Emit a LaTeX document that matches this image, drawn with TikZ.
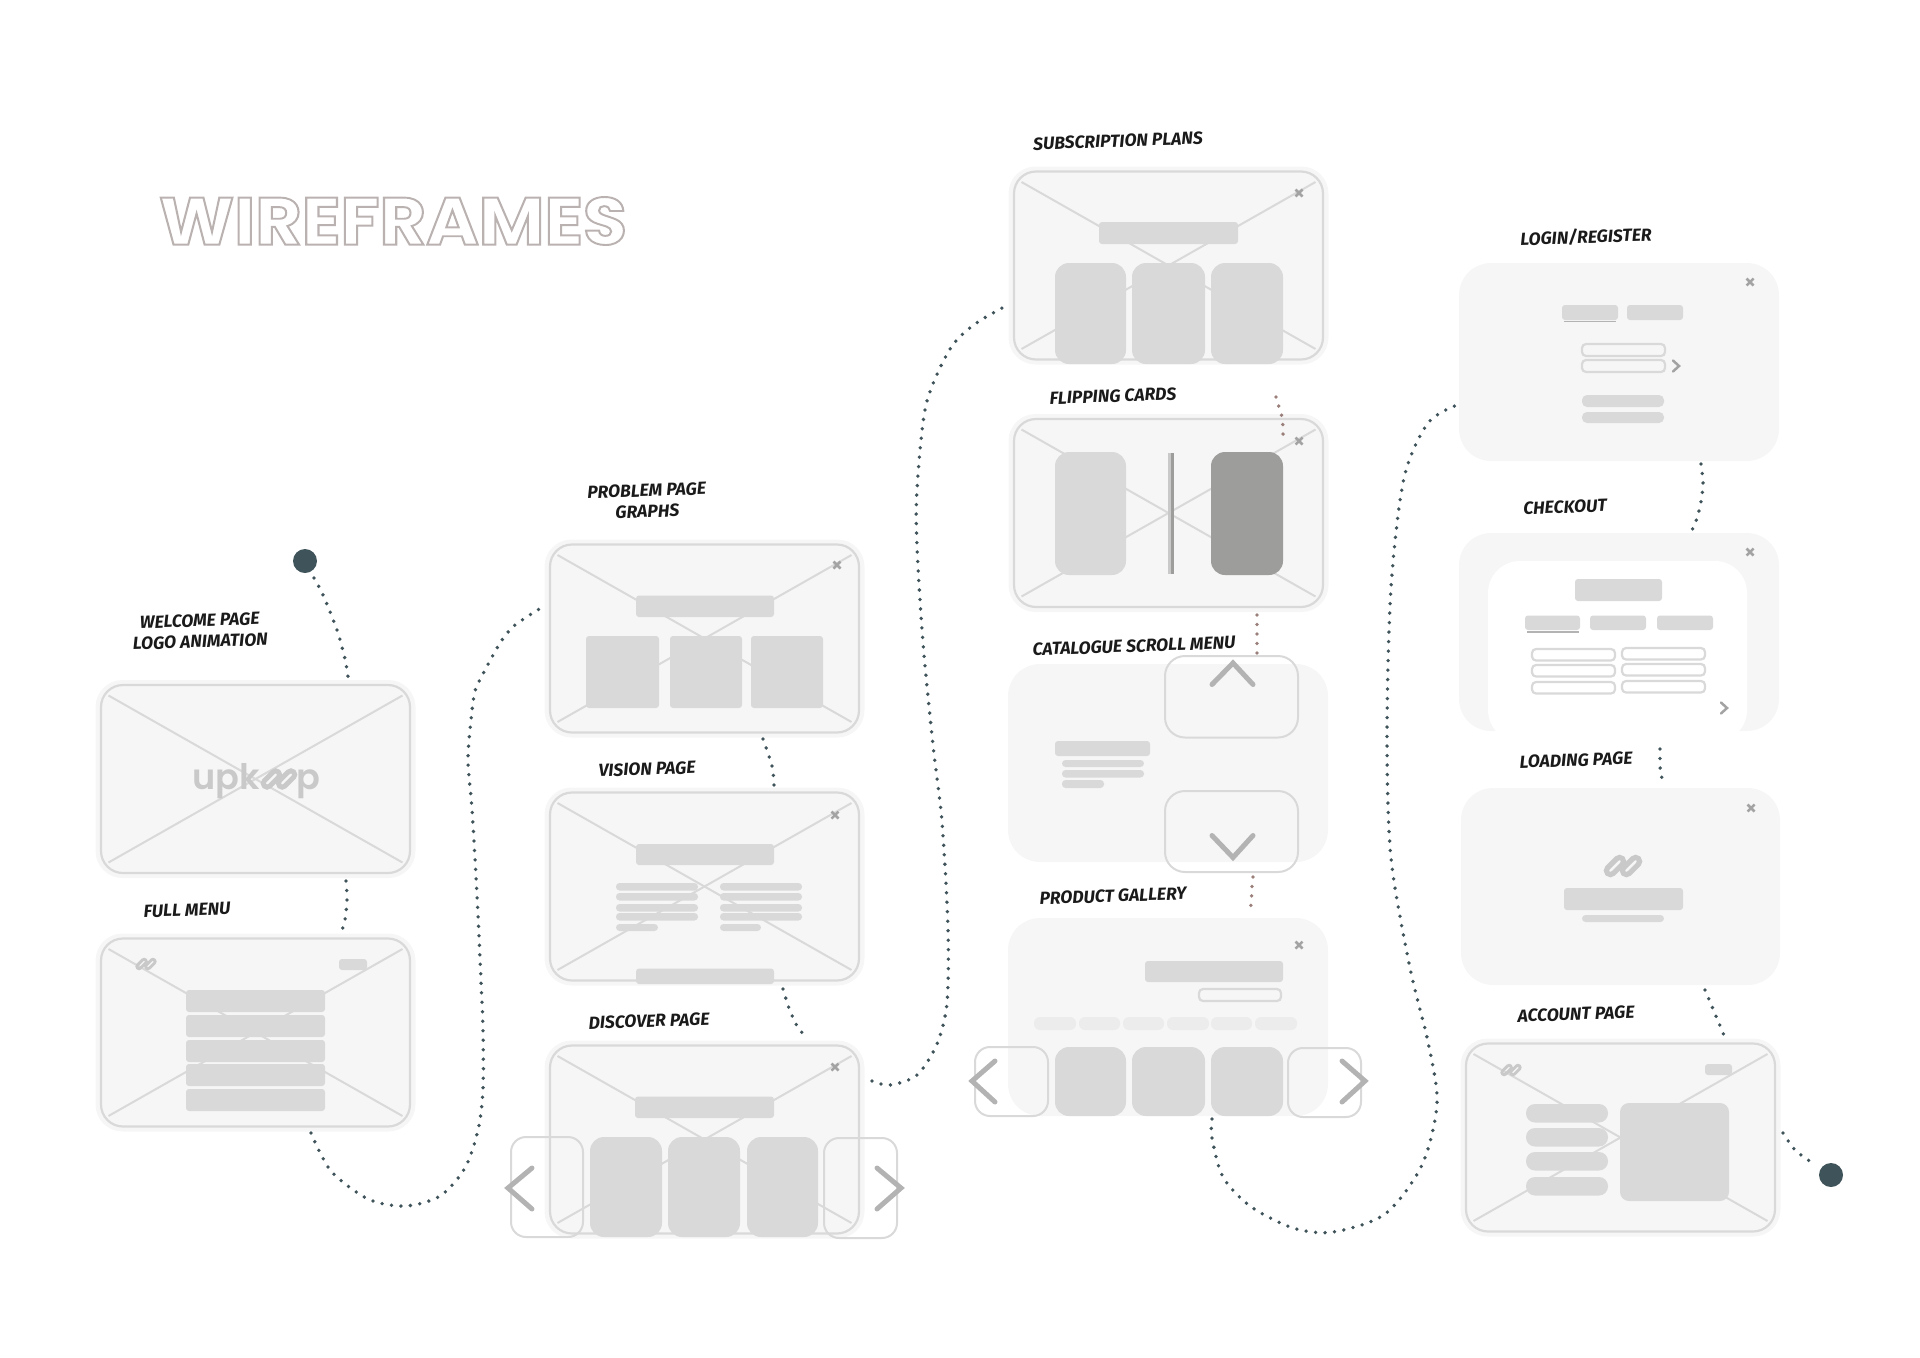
\documentclass[tikz,border=0pt]{standalone}
\usepackage{fontspec}
\setmainfont{Poppins}
\newfontfamily\labelfont{Fira Sans}[BoldItalicFont={Fira Sans Bold Italic}]
\newfontfamily\titlefont{Poppins Bold}
\newfontfamily\logofont{Poppins SemiBold}

\definecolor{panelgray}{HTML}{F6F6F6}
\definecolor{blockgray}{HTML}{D9D9D9}
\definecolor{tabgray}{HTML}{ECECEC}
\definecolor{markgray}{HTML}{C9C9C9}
\definecolor{arrowgray}{HTML}{B3B3B3}
\definecolor{closegray}{HTML}{A3A3A3}
\definecolor{flipgray}{HTML}{9D9D9C}
\definecolor{dotslate}{HTML}{3F535A}
\definecolor{dotbrown}{HTML}{9A7F7A}
\definecolor{inkblack}{HTML}{1A1A1A}

\tikzset{
    panelhalo/.style={fill=panelgray, rounded corners=2.7mm},
    panelframe/.style={fill=panelgray, draw=blockgray, line width=0.22mm, rounded corners=2.2mm},
    panelplain/.style={fill=panelgray, rounded corners=3.2mm},
    crossline/.style={draw=blockgray, line width=0.2mm},
    bar/.style={fill=blockgray, rounded corners=0.3mm},
    textline/.style={fill=blockgray, rounded corners=0.35mm},
    tabpill/.style={fill=tabgray, rounded corners=0.6mm},
    card/.style={fill=blockgray, rounded corners=1.4mm},
    navbox/.style={draw=blockgray, line width=0.2mm, rounded corners=1.5mm},
    fieldbox/.style={draw=blockgray, line width=0.22mm, rounded corners=0.4mm},
    chevron/.style={draw=arrowgray, line width=0.5mm, line cap=round},
    smallchevron/.style={draw=closegray, line width=0.25mm, line cap=round},
    closemark/.style={draw=closegray, line width=0.25mm},
    flow/.style={draw=dotslate, line width=0.38mm, line cap=round, dash pattern=on 0pt off 0.95mm},
    flowbrown/.style={flow, draw=dotbrown},
    pagelabel/.style={text=inkblack, align=center, rotate=2, inner sep=0pt, font=\labelfont\bfseries\itshape\fontsize{5}{6}\selectfont},
}

\newcommand{\wirepanel}[2]{%
    \fill[panelhalo] (#1-160,#2-99) rectangle (#1+160,#2+99);
    \draw[panelframe] (#1-154.5,#2-94) rectangle (#1+154.5,#2+94);
    \draw[crossline] (#1-147,#2-83.5) -- (#1+147,#2+83.5);
    \draw[crossline] (#1+147,#2-83.5) -- (#1-147,#2+83.5);
}
\newcommand{\closeicon}[2]{%
    \draw[closemark] (#1-3.5,#2-3.5) -- (#1+3.5,#2+3.5);
    \draw[closemark] (#1+3.5,#2-3.5) -- (#1-3.5,#2+3.5);
}
\newcommand{\upkmark}[3]{%
    \begin{scope}[shift={(#1,#2)}, scale=#3]
        \draw[draw=markgray, line width=#3*0.52mm, rounded corners=#3*0.4mm, rotate around={45:(-8,0)}] (-18.5,-4) rectangle (2.5,4);
        \draw[draw=markgray, line width=#3*0.52mm, rounded corners=#3*0.4mm, rotate around={45:(8,0)}] (-2.5,-4) rectangle (18.5,4);
    \end{scope}
}
\newcommand{\outlinetext}[1]{\special{pdf:code q 1 Tr 0.55 w 0.73 0.70 0.69 RG}#1\special{pdf:code Q}}

\begin{document}
\begin{tikzpicture}[x=0.1mm, y=-0.1mm]
    \useasboundingbox (0,0) rectangle (1920,1358);

    % Title
    \node[inner sep=0pt, xscale=1.07] (wiretitle) at (393,221) {\titlefont\fontsize{19}{19}\selectfont\outlinetext{WIREFRAMES}};

    % Welcome page
    \wirepanel{255.5}{779}
    \node[text=markgray, inner sep=0pt, anchor=base east] (logoleft) at (261,789) {\logofont\fontsize{10}{10}\selectfont upk};
    \upkmark{279}{779}{0.95}
    \node[text=markgray, inner sep=0pt, anchor=base west] (logoright) at (296,789) {\logofont\fontsize{10}{10}\selectfont p};

    % Full menu
    \wirepanel{255.5}{1032.5}
    \upkmark{146}{964}{0.55}
    \fill[bar] (339,959) rectangle (367,970);
    \foreach \rowtop in {990,1015,1040,1064,1089}
        \fill[bar] (186,\rowtop) rectangle (325,\rowtop+22);

    % Problem page
    \wirepanel{704.5}{638.5}
    \closeicon{837}{565}
    \fill[bar] (636,595.5) rectangle (774,617);
    \fill[bar] (586,636) rectangle (659,708);
    \fill[bar] (670,636) rectangle (742,708);
    \fill[bar] (751,636) rectangle (823,708);

    % Vision page
    \wirepanel{704.5}{886.5}
    \closeicon{835}{815}
    \fill[bar] (636,844) rectangle (774,865);
    \foreach \rowtop in {883,893,904,913} {
        \fill[textline] (616,\rowtop) rectangle (698,\rowtop+7.5);
        \fill[textline] (720,\rowtop) rectangle (802,\rowtop+7.5);
    }
    \fill[textline] (616,924) rectangle (658,931);
    \fill[textline] (720,924) rectangle (761,931);
    \fill[bar] (636,968.5) rectangle (774,984);

    % Discover page
    \wirepanel{704.5}{1139.5}
    \closeicon{835}{1067}
    \fill[bar] (635,1096.5) rectangle (774,1118);
    \fill[card] (590,1137) rectangle (662,1237);
    \fill[card] (668,1137) rectangle (740,1237);
    \fill[card] (747,1137) rectangle (818,1237);
    \draw[navbox] (511,1137) rectangle (583,1237);
    \draw[navbox] (824,1138) rectangle (897,1238);
    \draw[chevron] (532,1168) -- (508,1188) -- (532,1209);
    \draw[chevron] (877,1168) -- (901,1188) -- (877,1209);

    % Subscription plans
    \wirepanel{1168.5}{265.5}
    \closeicon{1299}{193}
    \fill[bar] (1099,222) rectangle (1238,244);
    \fill[card] (1055,263) rectangle (1126,364);
    \fill[card] (1132,263) rectangle (1205,364);
    \fill[card] (1211,263) rectangle (1283,364);

    % Flipping cards
    \wirepanel{1168.5}{513}
    \closeicon{1299}{441}
    \fill[card] (1055,452) rectangle (1126,575);
    \fill[card, fill=flipgray] (1211,452) rectangle (1283,575);
    \fill[markgray] (1168,453) rectangle (1171,574);
    \fill[flipgray] (1171,453) rectangle (1174,574);

    % Catalogue scroll menu
    \fill[panelplain] (1008,664) rectangle (1328,862);
    \fill[bar] (1055,741) rectangle (1150,756);
    \fill[textline] (1062,760) rectangle (1144,767);
    \fill[textline] (1062,770) rectangle (1144,777.5);
    \fill[textline] (1062,780) rectangle (1104,788);
    \draw[navbox, rounded corners=2mm] (1165,656) rectangle (1298,737.5);
    \draw[navbox, rounded corners=2mm] (1165,791) rectangle (1298,872);
    \draw[chevron] (1212,684.5) -- (1233,663) -- (1253,684.5);
    \draw[chevron] (1212,835.5) -- (1233,857.5) -- (1253,835.5);

    % Product gallery
    \fill[panelplain] (1008,918) rectangle (1328,1116);
    \closeicon{1299}{945}
    \fill[bar] (1145,961) rectangle (1283,982);
    \draw[fieldbox] (1199,989) rectangle (1281,1001);
    \foreach \tableft/\tabright in {1034/1076,1079/1120,1123/1164,1167/1209,1211/1252,1255/1297}
        \fill[tabpill] (\tableft,1017) rectangle (\tabright,1030);
    \fill[card] (1055,1047) rectangle (1126,1116);
    \fill[card] (1132,1047) rectangle (1205,1116);
    \fill[card] (1211,1047) rectangle (1283,1116);
    \draw[navbox] (975,1047) rectangle (1048,1116);
    \draw[navbox] (1288,1048) rectangle (1361,1117);
    \draw[chevron] (995,1061) -- (972,1081) -- (995,1102);
    \draw[chevron] (1342,1061) -- (1365,1081) -- (1342,1102);

    % Login/register
    \fill[panelplain] (1459,263) rectangle (1779,461);
    \closeicon{1750}{282}
    \fill[bar] (1562,305) rectangle (1618,320);
    \fill[bar] (1627,305) rectangle (1683,320);
    \draw[draw=arrowgray, line width=0.15mm] (1564,321.5) -- (1616,321.5);
    \draw[fieldbox] (1582,344) rectangle (1665,356);
    \draw[fieldbox] (1582,360) rectangle (1665,372);
    \draw[smallchevron] (1673,360.5) -- (1679,366) -- (1673,371.5);
    \fill[bar, rounded corners=0.5mm] (1582,395) rectangle (1664,407);
    \fill[bar, rounded corners=0.5mm] (1582,412) rectangle (1664,423);

    % Checkout
    \fill[panelplain] (1459,533) rectangle (1779,731);
    \begin{scope}
        \clip (1488,561) rectangle (1747,731);
        \fill[white, rounded corners=3.2mm] (1488,561) rectangle (1747,742);
    \end{scope}
    \closeicon{1750}{552}
    \fill[bar] (1575,579) rectangle (1662,601);
    \fill[bar] (1525,615.5) rectangle (1580,630);
    \fill[bar] (1590,615.5) rectangle (1646,630);
    \fill[bar] (1657,615.5) rectangle (1713,630);
    \draw[draw=arrowgray, line width=0.15mm] (1527,632) -- (1579,632);
    \foreach \rowtop in {649,665,682}
        \draw[fieldbox] (1532,\rowtop) rectangle (1615,\rowtop+11.5);
    \foreach \rowtop in {648,664,681}
        \draw[fieldbox] (1622,\rowtop) rectangle (1705,\rowtop+11.5);
    \draw[smallchevron] (1721,702.5) -- (1727,708) -- (1721,713.5);

    % Loading page
    \fill[panelplain] (1461,788) rectangle (1780,985);
    \closeicon{1751}{808}
    \upkmark{1623}{866}{1}
    \fill[bar] (1564,888) rectangle (1683,910);
    \fill[textline] (1582,915) rectangle (1664,922);

    % Account page
    \wirepanel{1620.5}{1137.5}
    \upkmark{1511}{1070}{0.55}
    \fill[bar] (1705,1064) rectangle (1732,1075);
    \foreach \rowtop in {1104,1128,1152,1177}
        \fill[bar, rounded corners=0.9mm] (1526,\rowtop) rectangle (1608,\rowtop+18.5);
    \fill[bar, rounded corners=0.9mm] (1620,1103) rectangle (1729,1201);

    % Start and end points
    \fill[dotslate] (305,561) circle (12);
    \fill[dotslate] (1831,1175) circle (12);
    \coordinate (startdot) at (314,578);
    \coordinate (enddot) at (1811,1162);

    % Dotted flow
    \draw[flow] plot[smooth] coordinates {(startdot) (323,595) (337,630) (345,659) (348,677)};
    \draw[flow] plot[smooth] coordinates {(346,881) (347,900) (345,920) (342,930)};
    \draw[flow] plot[smooth] coordinates {(311,1133) (331,1171) (368,1199) (405,1206) (440,1196) (465,1168) (478,1130) (483,1090) (483,1030) (481,981) (477,895) (472,809) (468,761) (471,720) (475,691) (483,674) (492,657) (502,640) (515,625) (541,608)};
    \draw[flow] plot[smooth] coordinates {(763,739) (772,766) (774,785)};
    \draw[flow] plot[smooth] coordinates {(783,989) (789,1008) (797,1026) (805,1036)};
    \draw[flow] plot[smooth] coordinates {(872,1081) (890,1085) (917,1075) (937,1044) (947,1003) (948,929) (942,822) (933,745) (923,643) (917,546) (917,490) (926,405) (950,349) (975,324) (1004,307)};
    \draw[flowbrown] plot[smooth] coordinates {(1276,397) (1279,407) (1282,417) (1283,428) (1283,438)};
    \draw[flowbrown] plot[smooth] coordinates {(1257,615) (1257,653)};
    \draw[flowbrown] plot[smooth] coordinates {(1253,877) (1252,887) (1251,905) (1248,914)};
    \draw[flow] plot[smooth] coordinates {(1212,1119) (1212,1138) (1223,1177) (1250,1206) (1293,1228) (1333,1232) (1385,1214) (1422,1165) (1437,1103) (1428,1042) (1410,968) (1391,858) (1387,736) (1391,588) (1404,478) (1428,423) (1457,405)};
    \draw[flow] plot[smooth] coordinates {(1701,464) (1703,483) (1701,502) (1696,521) (1692,530)};
    \draw[flow] plot[smooth] coordinates {(1660,749) (1660,766) (1661,775) (1664,783)};
    \draw[flow] plot[smooth] coordinates {(1705,990) (1713,1009) (1721,1028) (1725,1038)};
    \draw[flow] plot[smooth] coordinates {(1783,1133) (1795,1150) (1811,1162) (enddot)};

    % Labels
    \node[pagelabel] (lblwelcome) at (200,631) {WELCOME PAGE\\LOGO ANIMATION};
    \node[pagelabel] (lblmenu) at (187,910) {FULL MENU};
    \node[pagelabel] (lblproblem) at (647,501) {PROBLEM PAGE\\GRAPHS};
    \node[pagelabel] (lblvision) at (647,769) {VISION PAGE};
    \node[pagelabel] (lbldiscover) at (649,1021) {DISCOVER PAGE};
    \node[pagelabel] (lblsubscription) at (1118,141) {SUBSCRIPTION PLANS};
    \node[pagelabel] (lblflipping) at (1113,396) {FLIPPING CARDS};
    \node[pagelabel] (lblcatalogue) at (1134,646) {CATALOGUE SCROLL MENU};
    \node[pagelabel] (lblgallery) at (1113,896) {PRODUCT GALLERY};
    \node[pagelabel] (lbllogin) at (1586,237) {LOGIN/REGISTER};
    \node[pagelabel] (lblcheckout) at (1565,507) {CHECKOUT};
    \node[pagelabel] (lblloading) at (1576,760) {LOADING PAGE};
    \node[pagelabel] (lblaccount) at (1576,1014) {ACCOUNT PAGE};
\end{tikzpicture}
\end{document}
